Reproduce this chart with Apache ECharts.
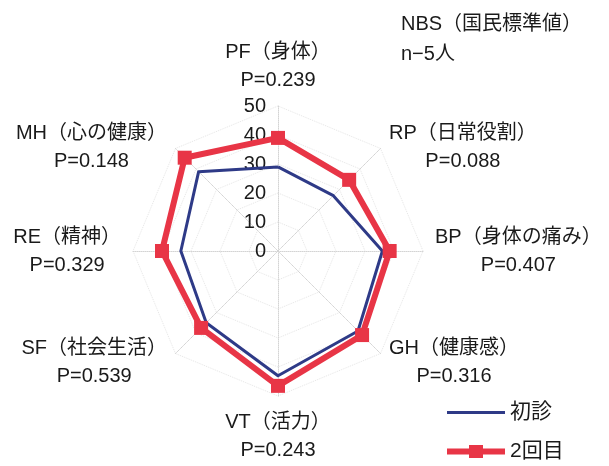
<!DOCTYPE html>
<html>
<head>
<meta charset="utf-8">
<script src="https://cdn.jsdelivr.net/npm/echarts@6/dist/echarts.min.js"></script>
<style>
html,body{margin:0;padding:0;background:#fff;}
#chart{width:609px;height:466px;}
</style>
</head>
<body>
<div id="chart"></div>
<script>
// Categories in clockwise order starting at the top
const categories = ['PF（身体）', 'RP（日常役割）', 'BP（身体の痛み）', 'GH（健康感）', 'VT（活力）', 'SF（社会生活）', 'RE（精神）', 'MH（心の健康）'];
const pValues = ['0.239', '0.088', '0.407', '0.316', '0.243', '0.539', '0.329', '0.148'];
const seriesNames = ['初診', '2回目'];
const firstVisit = [29, 27, 36, 39, 43, 35, 33.5, 38.7];
const secondVisit = [39, 34.7, 38.5, 41, 46.5, 37.5, 40, 45.5];
const axisMax = 50;
const axisMin = 0;
const tickInterval = 10;

const FONT = "'Liberation Sans', 'Noto Sans CJK JP', sans-serif";
const BLUE = '#2E3A87';
const RED = '#E83546';

// ECharts radar runs counter-clockwise; reorder so the picture runs clockwise
const order = [0].concat(categories.map((_, i) => i).slice(1).reverse());
const indicator = order.map((i, k) => {
  const ind = { name: categories[i], max: axisMax, min: axisMin };
  if (k === 0) ind.axisLabel = { show: true };
  return ind;
});
const reorder = arr => order.map(i => arr[i]);

// legend icons: thin line / thick line with a square in the middle
const lineIcon = 'path://M0,0M58,14M0,5.5L58,5.5L58,8.5L0,8.5Z';
const lineRectIcon = 'path://M0,0M58,14M0,4L22,4L22,0.5L36,0.5L36,4L58,4L58,10L36,10L36,13.5L22,13.5L22,10L0,10Z';

const chart = echarts.init(document.getElementById('chart'), null, { renderer: 'canvas' });
chart.setOption({
  backgroundColor: '#ffffff',
  animation: false,
  textStyle: { fontFamily: FONT },
  title: {
    text: 'NBS（国民標準値）\nn−5人',
    left: 401,
    top: 9,
    padding: 0,
    textStyle: { fontFamily: FONT, fontSize: 20, fontWeight: 'normal', color: '#1a1a1a', lineHeight: 30 }
  },
  legend: {
    orient: 'vertical',
    left: 447,
    top: 402,
    height: 62,
    padding: 0,
    itemWidth: 58,
    itemHeight: 14,
    itemGap: 18,
    textStyle: { fontFamily: FONT, fontSize: 21, color: '#1a1a1a', lineHeight: 20 },
    data: [
      { name: seriesNames[0], icon: lineIcon },
      { name: seriesNames[1], icon: lineRectIcon }
    ]
  },
  radar: {
    center: [278, 251],
    radius: 145,
    startAngle: 90,
    shape: 'polygon',
    splitNumber: (axisMax - axisMin) / tickInterval,
    indicator: indicator,
    nameGap: 12,
    axisName: {
      color: '#1a1a1a',
      fontFamily: FONT,
      fontSize: 20,
      formatter: function (name) {
        const idx = categories.indexOf(name);
        // upper diagonal labels sit a little lower in the reference
        const shift = (idx === 1 || idx === 7);
        return (shift ? '{gap| }\n' : '') + '{t|' + name + '}\n{p|P=' + pValues[idx] + '}';
      },
      rich: {
        gap: { fontSize: 10, lineHeight: 16 },
        t: { align: 'center', fontSize: 20, lineHeight: 28, fontFamily: FONT, color: '#1a1a1a' },
        p: { align: 'center', fontSize: 20, lineHeight: 28, fontFamily: FONT, color: '#1a1a1a' }
      }
    },
    axisLabel: { show: false, fontSize: 20, color: '#1a1a1a', margin: 12, fontFamily: FONT },
    axisTick: { show: false },
    axisLine: { lineStyle: { color: '#d4d4d4', width: 1, type: 'dotted' } },
    splitLine: { lineStyle: { color: '#e6e6e6', width: 1, type: 'dotted' } },
    splitArea: { show: false }
  },
  series: [{
    type: 'radar',
    data: [
      {
        name: seriesNames[0],
        value: reorder(firstVisit),
        symbol: 'none',
        lineStyle: { color: BLUE, width: 3 },
        itemStyle: { color: BLUE }
      },
      {
        name: seriesNames[1],
        value: reorder(secondVisit),
        symbol: 'rect',
        symbolSize: 14,
        lineStyle: { color: RED, width: 6 },
        itemStyle: { color: RED }
      }
    ]
  }]
});
</script>
</body>
</html>
